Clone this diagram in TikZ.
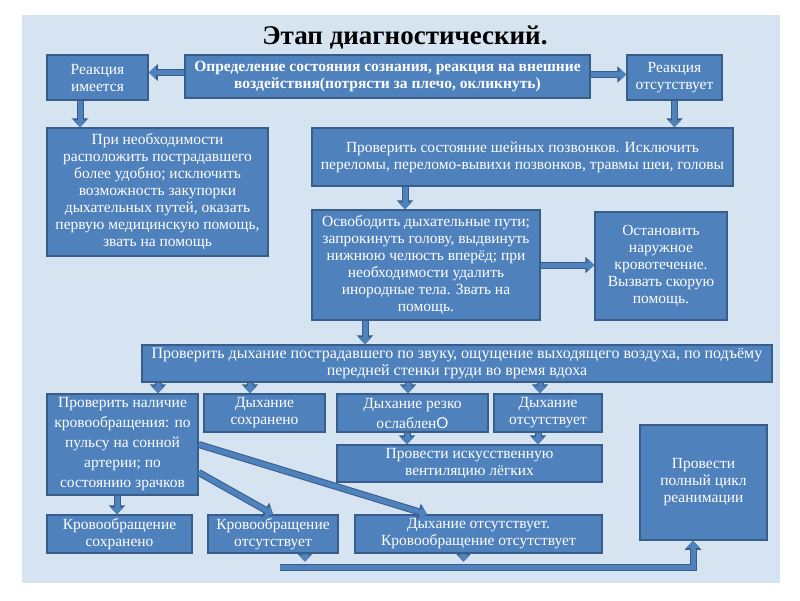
\documentclass[tikz,border=0pt]{standalone}
\usepackage{fontspec}
\setmainfont{Liberation Serif}
\newfontfamily\sansfont{Liberation Sans}
\usetikzlibrary{arrows.meta}
\definecolor{slidebg}{HTML}{D6E4F1}
\definecolor{boxfill}{HTML}{4F81BD}
\definecolor{boxedge}{HTML}{385D8A}
\tikzset{stepbox/.style={rectangle,draw=boxedge,line width=1.5pt,fill=boxfill,text=white,align=center,inner sep=0pt,font=\fontsize{15.5}{17}\selectfont}}
\tikzset{blockarrow/.style={draw=boxfill,line width=5pt,-{Triangle[width=13pt,length=7pt]},preaction={draw=boxedge,line width=7pt,-{Triangle[width=16pt,length=9pt]}}}}

\begin{document}
\begin{tikzpicture}[x=1pt,y=-1pt]
      \useasboundingbox (0,0) rectangle (800,600);
      \fill[white] (0,0) rectangle (800,600);
      \fill[slidebg] (22,15) rectangle (780,583);

      \node[font=\fontsize{27}{30}\selectfont\bfseries] (title) at (405,38) {Этап диагностический.};

      \node[stepbox,minimum width=101pt,minimum height=45pt] (yes) at (97.5,77.5) {Реакция\\имеется};
      \node[stepbox,minimum width=405pt,minimum height=43pt,font=\fontsize{15.5}{17}\selectfont\bfseries] (eval) at (387.5,76.5) {Определение состояния сознания, реакция на внешние\\воздействия(потрясти за плечо, окликнуть)};
      \node[stepbox,minimum width=95pt,minimum height=45pt] (no) at (674.5,77.5) {Реакция\\отсутствует};

      \node[stepbox,minimum width=221pt,minimum height=128pt] (help) at (157.5,192) {При необходимости\\расположить пострадавшего\\более удобно; исключить\\возможность закупорки\\дыхательных путей, оказать\\первую медицинскую помощь,\\звать на помощь};
      \node[stepbox,minimum width=421pt,minimum height=58pt] (neck) at (522.5,157) {Проверить состояние шейных позвонков. Исключить\\переломы, переломо-вывихи позвонков, травмы шеи, головы};
      \node[stepbox,minimum width=228pt,minimum height=110pt] (airway) at (426,265) {Освободить дыхательные пути;\\запрокинуть голову, выдвинуть\\нижнюю челюсть вперёд; при\\необходимости удалить\\инородные тела. Звать на\\помощь.};
      \node[stepbox,minimum width=132pt,minimum height=108pt] (bleed) at (661,266) {Остановить\\наружное\\кровотечение.\\Вызвать скорую\\помощь.};

      \node[stepbox,minimum width=630pt,minimum height=37pt,font=\fontsize{16}{17}\selectfont] (breath) at (457,363.5) {Проверить дыхание пострадавшего по звуку, ощущение выходящего воздуха, по подъёму\\передней стенки груди во время вдоха};

      \node[stepbox,minimum width=151pt,minimum height=101pt,font=\fontsize{15.5}{20}\selectfont] (pulse) at (122.5,444.5) {Проверить наличие\\кровообращения: по\\пульсу на сонной\\артерии; по\\состоянию зрачков};
      \node[stepbox,minimum width=121pt,minimum height=38pt] (bkeep) at (264.5,413) {Дыхание\\сохранено};
      \node[stepbox,minimum width=151pt,minimum height=38pt,font=\fontsize{15.5}{20}\selectfont] (bweak) at (412.5,413) {Дыхание резко\\ослаблен{\sansfont О}};
      \node[stepbox,minimum width=108pt,minimum height=38pt] (bnone) at (548,413) {Дыхание\\отсутствует};
      \node[stepbox,minimum width=265pt,minimum height=37pt] (ivl) at (469.5,463.5) {Провести искусственную\\вентиляцию лёгких};
      \node[stepbox,minimum width=127pt,minimum height=115pt] (cpr) at (703.5,482.5) {Провести\\полный цикл\\реанимации};

      \node[stepbox,minimum width=145pt,minimum height=38pt] (ckeep) at (119.5,534) {Кровообращение\\сохранено};
      \node[stepbox,minimum width=130pt,minimum height=38pt] (cnone) at (273,534) {Кровообращение\\отсутствует};
      \node[stepbox,minimum width=247pt,minimum height=38pt] (both) at (478.5,534) {Дыхание отсутствует.\\Кровообращение отсутствует};

      \coordinate (barL) at (280,567);
      \coordinate (barR) at (693,567);

      \draw[blockarrow] ([yshift=4pt]eval.west) -- ([yshift=4pt]eval.west -| yes.east);
      \draw[blockarrow] ([yshift=2pt]eval.east) -- ([yshift=2pt]eval.east -| no.west);
      \draw[blockarrow] ([xshift=-17.5pt]yes.south) -- ([xshift=-17.5pt]yes.south |- help.north);
      \draw[blockarrow] (no.south) -- (no.south |- neck.north);
      \draw[blockarrow] ([xshift=-21pt]airway.north |- neck.south) -- ([xshift=-21pt]airway.north);
      \draw[blockarrow] (airway.east) -- (airway.east -| bleed.west);
      \draw[blockarrow] ([xshift=-61pt]airway.south) -- ([xshift=-61pt]airway.south |- breath.north);

      \draw[blockarrow] ([xshift=35.5pt]pulse.north |- breath.south) -- ([xshift=35.5pt]pulse.north);
      \draw[blockarrow] ([xshift=-14.5pt]bkeep.north |- breath.south) -- ([xshift=-14.5pt]bkeep.north);
      \draw[blockarrow] ([xshift=-4.5pt]bweak.north |- breath.south) -- ([xshift=-4.5pt]bweak.north);
      \draw[blockarrow] ([xshift=-8pt]bnone.north |- breath.south) -- ([xshift=-8pt]bnone.north);
      \draw[blockarrow] ([xshift=-5.5pt]bweak.south) -- ([xshift=-5.5pt]bweak.south |- ivl.north);
      \draw[blockarrow] ([xshift=-10pt]bnone.south) -- ([xshift=-10pt]bnone.south |- ivl.north);

      \draw[blockarrow] ([xshift=-5.5pt]pulse.south) -- ([xshift=-5.5pt]pulse.south |- ckeep.north);
      \draw[blockarrow] ([yshift=-28pt]pulse.east) -- (cnone.north);
      \draw[blockarrow] (pulse.east) -- ([xshift=-51.5pt]both.north);

      \draw[blockarrow] ([xshift=32pt]cnone.south) -- ([xshift=32pt,yshift=-8pt]cnone.south);
      \draw[blockarrow] ([xshift=-15pt]both.south) -- ([xshift=-15pt,yshift=-8pt]both.south);
      \draw[blockarrow] (barL) -- (barR) -- (barR |- cpr.south);

\end{tikzpicture}
\end{document}
